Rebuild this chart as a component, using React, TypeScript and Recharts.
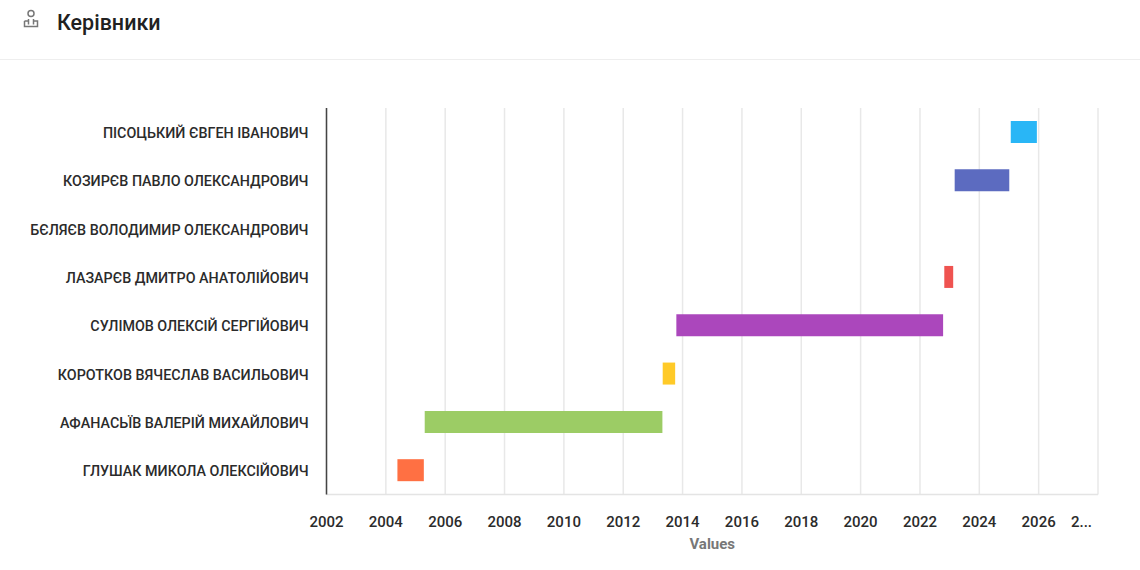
import React from "react";
import { BarChart, Bar, XAxis, YAxis, CartesianGrid, Cell } from "recharts";

const title = "Керівники";
const axisTitle = "Values";
const names = [
  "ПІСОЦЬКИЙ ЄВГЕН ІВАНОВИЧ",
  "КОЗИРЄВ ПАВЛО ОЛЕКСАНДРОВИЧ",
  "БЄЛЯЄВ ВОЛОДИМИР ОЛЕКСАНДРОВИЧ",
  "ЛАЗАРЄВ ДМИТРО АНАТОЛІЙОВИЧ",
  "СУЛІМОВ ОЛЕКСІЙ СЕРГІЙОВИЧ",
  "КОРОТКОВ ВЯЧЕСЛАВ ВАСИЛЬОВИЧ",
  "АФАНАСЬЇВ ВАЛЕРІЙ МИХАЙЛОВИЧ",
  "ГЛУШАК МИКОЛА ОЛЕКСІЙОВИЧ",
];
const starts = [2025.06, 2023.17, null, 2022.82, 2013.79, 2013.33, 2005.31, 2004.39];
const ends = [2025.94, 2025.01, null, 2023.12, 2022.78, 2013.75, 2013.32, 2005.28];
const colors = ["#29B6F6", "#5C6BC0", "#BDBDBD", "#EF5350", "#AB47BC", "#FFCA28", "#9CCC65", "#FF7043"];
const yearTicks = [2002, 2004, 2006, 2008, 2010, 2012, 2014, 2016, 2018, 2020, 2022, 2024, 2026, 2028];

const rows = names.map((name, i) => ({
  name,
  range: starts[i] === null ? null : [starts[i], ends[i]],
}));

const FONT = "Roboto, sans-serif";

function YearTick(props: any) {
  const { x, y, payload } = props;
  const last = payload.value === 2028;
  return (
    <text
      x={last ? x - 6 : x}
      y={y + 24}
      textAnchor={last ? "end" : "middle"}
      fill="#2b2b2b"
      fontFamily={FONT}
      fontSize={15}
      fontWeight={500}
    >
      {last ? "2..." : payload.value}
    </text>
  );
}

function NameTick(props: any) {
  const { x, y, payload } = props;
  return (
    <text x={x} y={y + 6} textAnchor="end" fill="#2b2b2b" fontFamily={FONT} fontSize={14.3} fontWeight={500}>
      {payload.value}
    </text>
  );
}

export default function App() {
  return (
    <div style={{ position: "absolute", left: 0, top: 0, width: 1140, height: 570, background: "#fff", overflow: "hidden" }}>
      <svg width={20} height={22} viewBox="0 0 20 22" style={{ position: "absolute", left: 21, top: 8 }} fill="none" stroke="#777" strokeWidth={1.5}>
        <circle cx={10} cy={5.5} r={3} />
        <path d="M3.5 13v5.5h13V13h-3.5M3.5 13H7M7.5 11v5.5M12.5 11v5.5" />
      </svg>
      <div style={{ position: "absolute", left: 57, top: 10, fontFamily: FONT, fontSize: 21.5, fontWeight: 500, lineHeight: "26px", color: "#212121" }}>
        {title}
      </div>
      <div style={{ position: "absolute", left: 0, top: 59, width: 1140, height: 1, background: "#eeeeee" }} />
      <BarChart
        width={1140}
        height={570}
        data={rows}
        layout="vertical"
        margin={{ top: 108, right: 42, bottom: 0, left: 0 }}
        barCategoryGap={13}
      >
        <CartesianGrid horizontal={false} vertical stroke="#e8e8e8" strokeWidth={1.5} />
        <XAxis
          type="number"
          dataKey="range"
          domain={[2002, 2028]}
          ticks={yearTicks}
          interval={0}
          height={75.5}
          tickLine={false}
          axisLine={{ stroke: "#e4e4e4", strokeWidth: 1.5 }}
          tick={<YearTick />}
          label={{ value: axisTitle, position: "insideBottom", offset: 21, fill: "#777777", fontFamily: FONT, fontSize: 15, fontWeight: 700 }}
        />
        <YAxis
          type="category"
          dataKey="name"
          width={326.5}
          interval={0}
          tickLine={false}
          tickSize={0}
          tickMargin={18}
          axisLine={{ stroke: "#444444", strokeWidth: 1.5 }}
          tick={<NameTick />}
        />
        <Bar dataKey="range" isAnimationActive={false}>
          {rows.map((r, i) => (
            <Cell key={r.name} fill={colors[i]} />
          ))}
        </Bar>
      </BarChart>
    </div>
  );
}
